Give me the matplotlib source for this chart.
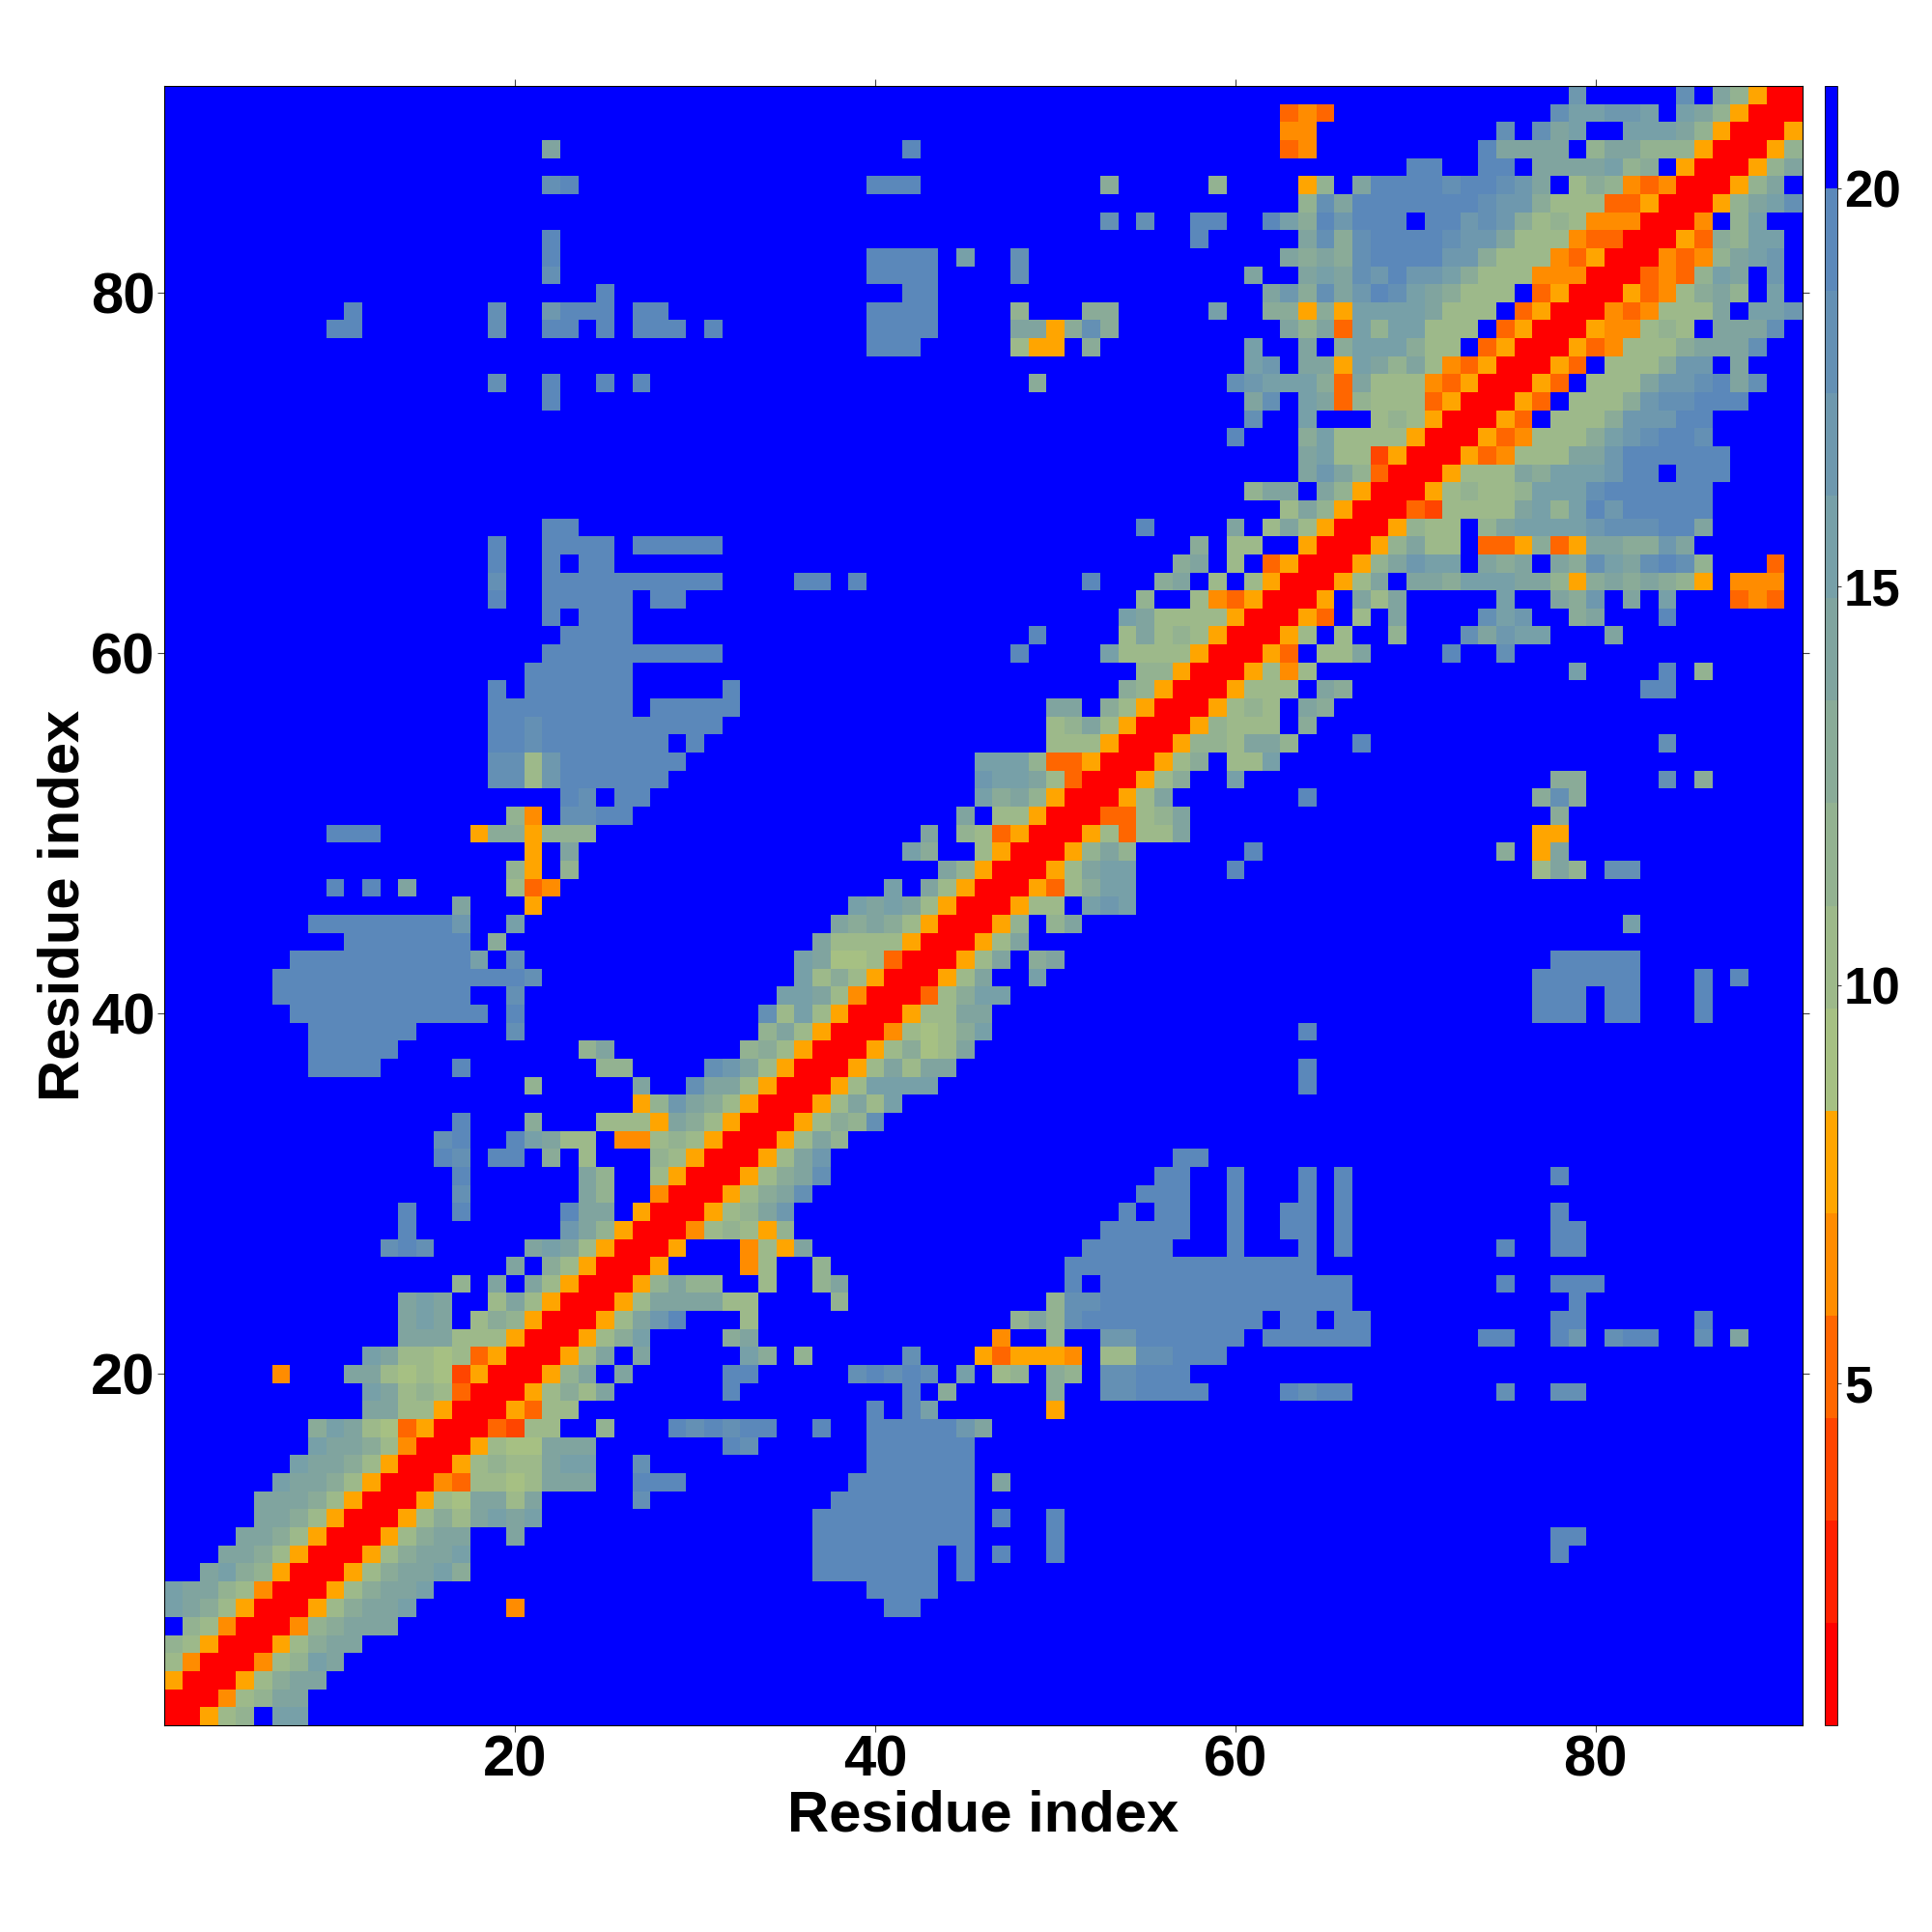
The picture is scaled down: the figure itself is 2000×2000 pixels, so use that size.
import numpy as np
import matplotlib
matplotlib.use('Agg')
import matplotlib.pyplot as plt
from matplotlib.colors import ListedColormap

plt.rcParams['font.family'] = ['Liberation Sans', 'DejaVu Sans']
plt.rcParams['font.weight'] = 'bold'

n_residues = 91
vmin, vmax = 0.71, 21.28

# 16 colour bins, bottom of the colour bar to the top
bin_colors = ['#ff0000', '#ff2000', '#ff4500', '#ff6600', '#ff8c00', '#ffa500',
              '#a6c083', '#9db98a', '#93b291', '#8aab98', '#80a49f', '#77a0a8',
              '#6e98ae', '#6490b4', '#5b88ba', '#0000ff']

xy_ticks = [20, 40, 60, 80]
bar_ticks = [5, 10, 15, 20]

# bin per cell, one row per residue from the diagonal to the right: "col:bins"
# hex digit = colour bin, "." = above the cutoff. The map is symmetric.
rows_a = [
    "1:00578.bb", "2:00478aa", "3:00579aa", "4:00478ba", "5:00579aa", "6:00489aaa",
    "7:00579aab 20:4 41:ee",
    "8:00579aab 40:eeee",
    "9:00579aab9 37:eeeeeee 45:e",
    "10:00579aab 37:eeeeeee 45:e 47:e 50:e 78:e",
    "11:00579aa..a 37:eeeeeeeee 50:e 78:ee",
    "12:005797abab 37:eeeeeeeee 47:e 50:e",
    "13:00576aa7a 27:d 38:eeeeeeee",
    "14:00437767aaa 27:eee 39:eeeeeee 47:a",
    "15:0057877abb 27:d 40:eeeeee",
    "16:005766aaa 32:ed 40:eeeeee",
    "17:003277..8 29:ededee 37:e 40:eeeeeca",
    "18:005377 40:e 42:eb 50:5",
    "19:005797a 32:e 42:e 44:9 50:9 53:ddeeee 63:edee 75:d 78:dd",
    "20:0058a.a 32:ee 39:deded 45:b 47:78 50:98 53:ddeee",
    "21:0057a.a 33:b9 36:8 42:d 46:535554 53:77ddeee",
    "22:00579b 32:9a 47:4 50:8 53:cceeeeee 62:eeeeee 74:ee 78:ec 81:dee 86:d 88:a",
    "23:0057ace 33:7 48:8a8d 52:eeeeeeeeee 63:ee 66:ee 78:ee 86:e",
    "24:0057aaaa77 38:8 50:8dd 53:eeeeeeeeeeeeee 79:e",
    "25:0058a88..7 37:8a 51:e 53:eeeeeeeeeeeeee 75:e 78:eee",
    "26:005 33:47 37:8 51:eeeeeeeeeeeeee",
    "27:005 33:475a 52:eeeee 60:e 64:e 66:e 75:e 78:ee",
    "28:00478758 53:eeeee 60:e 63:ee 66:e 78:ee",
    "29:00578ac 54:e 56:ee 60:e 63:ee 66:e 78:e",
    "30:00579ad 55:eee 60:e 64:e 66:e",
]
rows_b = [
    "31:00579ad 56:ee 60:e 64:e 66:e 78:e",
    "32:0057ac 57:ee", "33:0057a8", "34:005798d", "35:0057a7b",
    "36:0057bbbb 64:e", "37:0057a7aa 64:e", "38:0057967a", "39:0047679b 64:e",
    "40:00577aa 77:eee 81:ee 86:e",
    "41:00379bb 77:eee 81:ee 86:e",
    "42:0057a..b 77:eeeeee 86:e 88:e",
    "43:0057a.9a 78:eeeee",
    "44:0057a",
    "45:0058.8a 82:b",
    "46:00577.bcb",
    "47:005379bb",
    "48:0057abb 60:e 77:7a8 81:dd",
    "49:0058a8 61:e 75:9 77:5a",
    "50:0057377a 77:55",
    "51:003378a 78:9",
    "52:0057a 64:e 77:9d9",
    "53:00579..b 78:99 84:d 86:9",
    "54:00579.77b",
    "55:005887aa8 67:e 84:d",
    "56:0058777.9",
    "57:005787.a9",
    "58:005777.a9 83:ee",
    "59:005747 79:b 84:e 86:8",
    "60:0053.77a 72:e 75:d",
]
rows_c = [
    "61:0057.7..8 73:dacbb 81:a",
    "62:0053.7.a 74:dbc 79:9a 84:e",
    "63:005.a7a 75:b 78:a9c 82:a 84:b 88:343",
    "64:0057a.aa9bbbaa859a9a985.444",
    "65:0058acbb.a9a.a9dbaded8...3",
    "66:0058a77.335935aa99ca",
    "67:005877.8abbbbcdddeea",
    "68:00327777ab8beceeeee",
    "69:00578778bbbdeeeeee",
    "70:005777a9bbbcee.eee",
    "71:00534777aaceeeeee",
    "72:005347779bcdeed",
    "73:0053.7779cccee",
    "74:0053.7779cddeee",
    "75:0053.777accdead",
    "76:0053.7779cc.a",
    "77:005347779aaad",
    "78:00544787.aaad",
    "79:00434777a.bbc",
    "80:0053479a8.b",
    "81:003438ba.c",
    "82:004348abc",
    "83:005398bb",
    "84:004.8b",
    "85:0058abd",
    "86:0058a",
    "87:0058a",
    "88:0058",
    "89:005",
    "90:00",
    "91:0",
]

step = (vmax - vmin) / len(bin_colors)
dist = np.full((n_residues, n_residues), vmin + 15.5 * step)
for row, text in enumerate(rows_a + rows_b + rows_c):
    for run in text.split():
        start, bins = run.split(':')
        for k, c in enumerate(bins):
            if c != '.':
                col = int(start) - 1 + k
                dist[row, col] = vmin + (int(c, 16) + 0.5) * step
                dist[col, row] = dist[row, col]

fig = plt.figure(figsize=(20, 20), dpi=100)
ax = fig.add_axes([170 / 2000, 1 - 1786 / 2000, 1696 / 2000, 1697 / 2000])
cax = fig.add_axes([1889 / 2000, 1 - 1786 / 2000, 13 / 2000, 1697 / 2000])

im = ax.imshow(dist, origin='lower', extent=(0.5, 91.5, 0.5, 91.5), aspect='auto',
               interpolation='nearest', cmap=ListedColormap(bin_colors), vmin=vmin, vmax=vmax)

ax.set_xticks(xy_ticks)
ax.set_yticks(xy_ticks)
ax.tick_params(axis='both', top=True, right=True, length=5, width=0.8, color='#444444',
               labelsize=43, pad=2)
ax.set_xlabel('Residue index', fontsize=43, fontweight='bold')
ax.set_ylabel('Residue index', fontsize=43, fontweight='bold')
ax.xaxis.set_label_coords(0.5, -0.0392)
ax.yaxis.set_label_coords(-0.045, 0.5)
for side in ax.spines.values():
    side.set_linewidth(0.8)

cbar = fig.colorbar(im, cax=cax)
cbar.set_ticks(bar_ticks)
cbar.ax.tick_params(length=3, width=0.8, color='#444444', labelsize=38, pad=2)
cbar.outline.set_linewidth(0.6)

fig.savefig('out.png', dpi=100)
